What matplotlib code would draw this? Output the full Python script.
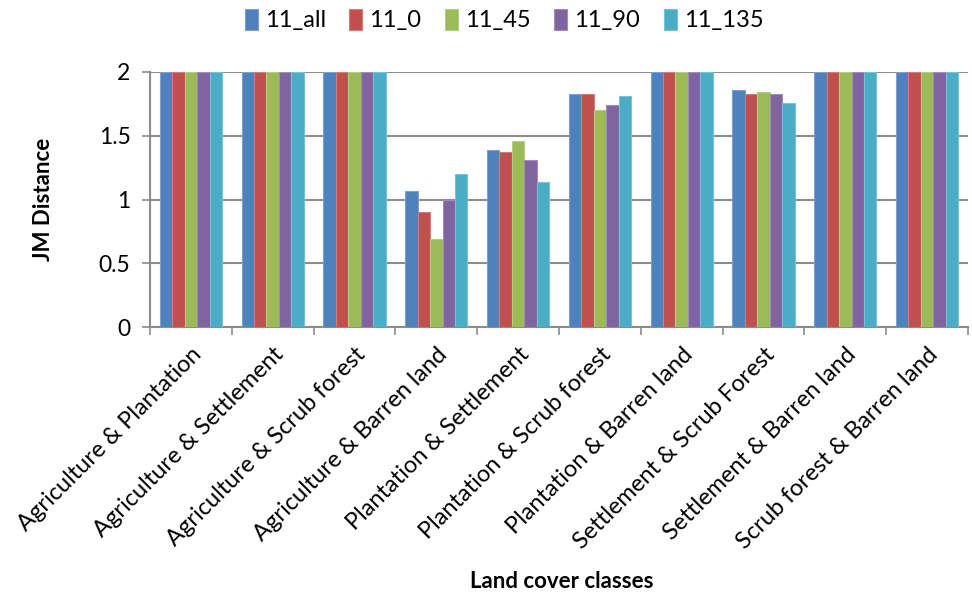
import numpy as np
import matplotlib
matplotlib.use("Agg")
import matplotlib.pyplot as plt
from matplotlib.colors import to_rgb

plt.rcParams['font.family'] = ['Lato', 'DejaVu Sans']

categories = [
    "Agriculture & Plantation",
    "Agriculture & Settlement",
    "Agriculture & Scrub forest",
    "Agriculture & Barren land",
    "Plantation & Settlement",
    "Plantation & Scrub forest",
    "Plantation & Barren land",
    "Settlement & Scrub Forest",
    "Settlement & Barren land",
    "Scrub forest & Barren land",
]
series_names = ["11_all", "11_0", "11_45", "11_90", "11_135"]
v_all = [2.0, 2.0, 2.0, 1.07, 1.39, 1.83, 2.0, 1.86, 2.0, 2.0]
v_0 = [2.0, 2.0, 2.0, 0.90, 1.37, 1.83, 2.0, 1.83, 2.0, 2.0]
v_45 = [2.0, 2.0, 2.0, 0.69, 1.46, 1.70, 2.0, 1.84, 2.0, 2.0]
v_90 = [2.0, 2.0, 2.0, 1.00, 1.31, 1.74, 2.0, 1.83, 2.0, 2.0]
v_135 = [2.0, 2.0, 2.0, 1.20, 1.14, 1.81, 2.0, 1.76, 2.0, 2.0]
series_values = [v_all, v_0, v_45, v_90, v_135]
colors = ["#4F81BD", "#C0504D", "#9BBB59", "#8064A2", "#4BACC6"]

fig = plt.figure(figsize=(9.72, 5.99), dpi=100)
ax = fig.add_axes([150 / 972, 1 - 327 / 599, 818 / 972, 255 / 599])

n = len(categories)
x = np.arange(n)
bar_w = 0.152
grid_c = "#8C8C8C"

for i, (name, vals, c) in enumerate(zip(series_names, series_values, colors)):
    edge = tuple(min(1, ch * 0.75 + 0.25) for ch in to_rgb(c))
    ax.bar(x + (i - 2) * bar_w, vals, width=bar_w, color=c, edgecolor=edge,
           linewidth=0.8, label=name, zorder=3)

ax.set_xlim(-0.5, n - 0.5)
ax.set_ylim(0, 2)
ax.set_yticks([0, 0.5, 1, 1.5, 2])
ax.set_yticklabels(["0", "0.5", "1", "1.5", "2"], fontsize=16.5)
ax.yaxis.grid(True, color=grid_c, linewidth=1.5, zorder=0)
ax.set_axisbelow(True)

# category boundaries carry the tick marks, centres carry the labels
ax.set_xticks(np.arange(-0.5, n, 1.0))
ax.set_xticklabels([])
ax.set_xticks(x, minor=True)
ax.set_xticklabels(categories, minor=True, rotation=45, ha="right",
                   va="top", rotation_mode="anchor", fontsize=17)
ax.tick_params(axis="x", which="minor", length=0, pad=12)
ax.tick_params(axis="x", which="major", length=6, width=1.2, color=grid_c)
ax.tick_params(axis="y", length=6, width=1.2, color=grid_c, pad=8)

for s in ["top", "right"]:
    ax.spines[s].set_visible(False)
for s in ["left", "bottom"]:
    ax.spines[s].set_color(grid_c)
    ax.spines[s].set_linewidth(1.5)

ax.set_ylabel("JM Distance", fontsize=16, fontweight="bold")
ax.yaxis.set_label_coords((54 - 150) / 818, 0.5)
fig.text(562 / 972, 1 - 582 / 599, "Land cover classes", fontsize=16,
         fontweight="bold", ha="center", va="center")

fig.legend(loc="center", bbox_to_anchor=(504 / 972, 1 - 20 / 599), ncol=5,
           frameon=False, fontsize=17, handlelength=0.55, handleheight=1.0,
           handletextpad=0.3, columnspacing=1.0)

fig.savefig("out.png", dpi=100)
